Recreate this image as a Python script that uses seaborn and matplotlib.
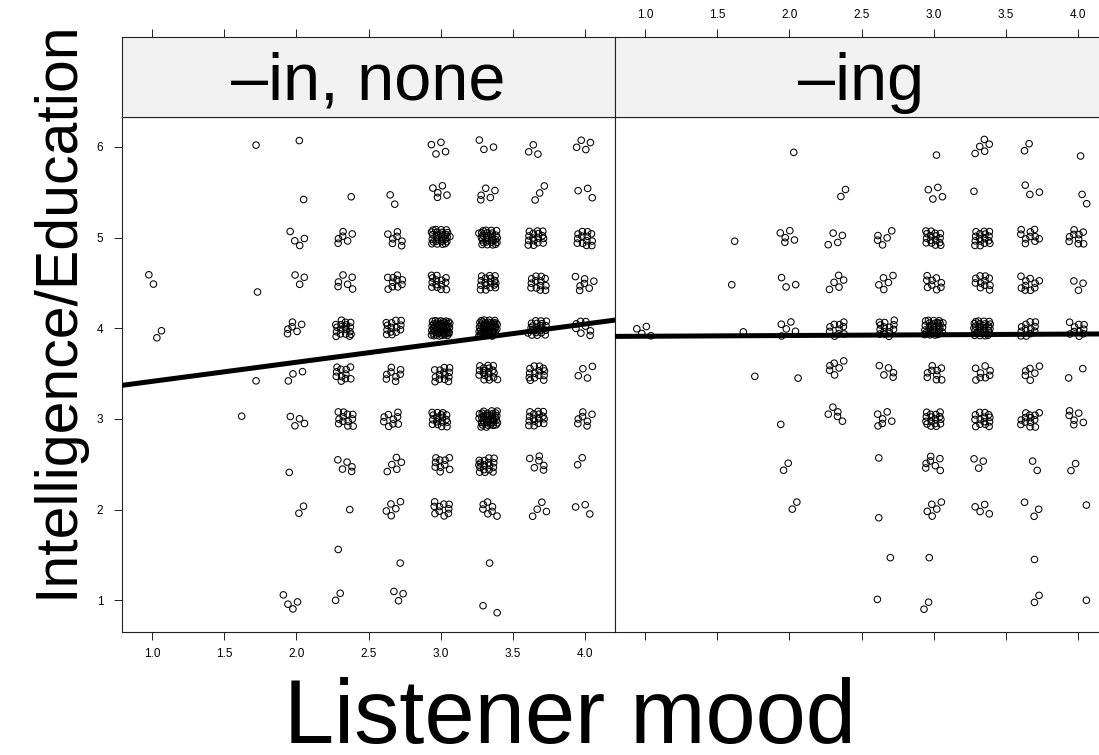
import numpy as np
import pandas as pd
import matplotlib
matplotlib.use("Agg")
import matplotlib.pyplot as plt
import seaborn as sns

# ---------------- data ----------------
panel_labels = ["–in, none", "–ing"]

# panel "–in, none": cluster centre x, centre y, number of points
in_x = [1.72, 2.02, 3.0, 3.33, 3.67, 4.0,
        2.05, 2.38, 2.64, 3.0, 3.33, 3.67, 4.0,
        2.0, 2.33, 2.67, 3.0, 3.33, 3.67, 4.0,
        1.02, 1.73, 2.0, 2.33, 2.67, 3.0, 3.33, 3.67, 4.0,
        1.03, 2.0, 2.33, 2.67, 3.0, 3.33, 3.67, 4.0,
        1.72, 2.0, 2.33, 2.67, 3.0, 3.33, 3.67, 4.0,
        1.62, 2.0, 2.33, 2.67, 3.0, 3.33, 3.67, 4.0,
        1.95, 2.33, 2.67, 3.0, 3.33, 3.67, 4.0,
        2.0, 2.37, 2.67, 3.0, 3.33, 3.67, 4.0,
        2.29, 2.72, 3.34,
        1.97, 2.33, 2.7, 3.35]
in_y = [6.02, 6.07, 6.0, 6.0, 6.0, 6.0,
        5.42, 5.45, 5.45, 5.5, 5.5, 5.5, 5.5,
        5.0, 5.0, 5.0, 5.0, 5.0, 5.0, 5.0,
        4.5, 4.4, 4.55, 4.5, 4.5, 4.5, 4.5, 4.5, 4.5,
        3.98, 4.0, 4.0, 4.0, 4.0, 4.0, 4.0, 4.0,
        3.42, 3.5, 3.5, 3.5, 3.5, 3.5, 3.5, 3.5,
        3.03, 3.0, 3.0, 3.0, 3.0, 3.0, 3.0, 3.0,
        2.41, 2.5, 2.5, 2.5, 2.5, 2.5, 2.56,
        2.0, 2.0, 2.0, 2.0, 2.0, 2.0, 2.0,
        1.56, 1.41, 1.41,
        0.98, 1.05, 1.02, 0.94]
in_n = [1, 1, 4, 3, 3, 4,
        1, 1, 2, 5, 5, 3, 3,
        4, 6, 7, 28, 28, 16, 13,
        2, 1, 3, 6, 10, 14, 17, 13, 7,
        2, 6, 18, 14, 50, 45, 22, 8,
        1, 3, 11, 8, 14, 18, 14, 4,
        1, 4, 12, 9, 18, 35, 16, 7,
        1, 5, 5, 10, 17, 6, 2,
        2, 1, 5, 10, 7, 4, 3,
        1, 1, 1,
        4, 2, 3, 2]

# panel "–ing"
ing_x = [2.03, 3.02, 3.33, 3.67, 4.02,
         2.33, 3.0, 3.28, 3.67, 4.03,
         1.62, 2.0, 2.33, 2.67, 3.0, 3.33, 3.67, 4.0,
         1.6, 2.0, 2.33, 2.67, 3.0, 3.33, 3.67, 4.0,
         1.0, 1.68, 2.0, 2.33, 2.67, 3.0, 3.33, 3.67, 4.0,
         1.76, 2.06, 2.33, 2.67, 3.0, 3.33, 3.67, 4.0,
         1.94, 2.33, 2.67, 3.0, 3.33, 3.67, 4.0,
         1.95, 2.62, 3.0, 3.33, 3.67, 4.0,
         2.0, 2.62, 3.0, 3.33, 3.67, 4.06,
         2.7, 2.97, 3.7,
         2.61, 2.97, 3.67, 4.06]
ing_y = [5.94, 5.91, 6.0, 5.98, 5.9,
         5.45, 5.5, 5.51, 5.5, 5.45,
         4.96, 5.0, 5.0, 5.0, 5.0, 5.0, 5.0, 5.0,
         4.48, 4.5, 4.5, 4.5, 4.5, 4.5, 4.5, 4.45,
         4.0, 3.96, 4.0, 4.0, 4.0, 4.0, 4.0, 4.0, 4.0,
         3.47, 3.45, 3.55, 3.5, 3.5, 3.5, 3.5, 3.5,
         2.94, 3.05, 3.0, 3.0, 3.0, 3.0, 3.0,
         2.5, 2.57, 2.5, 2.5, 2.45, 2.5,
         2.05, 1.91, 2.0, 2.0, 2.0, 2.05,
         1.47, 1.47, 1.45,
         1.01, 0.95, 1.0, 1.0]
ing_n = [1, 1, 5, 2, 1,
         2, 4, 1, 3, 2,
         1, 5, 4, 5, 16, 16, 10, 9,
         1, 3, 5, 5, 9, 11, 10, 3,
         4, 1, 5, 10, 14, 30, 28, 12, 10,
         1, 1, 6, 5, 9, 8, 6, 2,
         1, 5, 6, 16, 14, 13, 6,
         2, 1, 7, 3, 2, 2,
         2, 1, 5, 4, 3, 1,
         1, 1, 1,
         1, 2, 2, 1]

# fitted lines (intercept, slope) per panel
line_intercept = [3.204, 3.904]
line_slope = [0.2105, 0.008]

x_ticks = [1.0, 1.5, 2.0, 2.5, 3.0, 3.5, 4.0]
x_ticklabels = ["1.0", "1.5", "2.0", "2.5", "3.0", "3.5", "4.0"]
y_ticks = [1, 2, 3, 4, 5, 6]
y_ticklabels = ["1", "2", "3", "4", "5", "6"]

x_label = "Listener mood"
y_label = "Intelligence/Education"

# ---------------- layout / style ----------------
JX, JY = 0.065, 0.09
G = 1.324717957244746
A1, A2 = 1 / G, 1 / G ** 2


def expand(xs, ys, ns, start=0):
    """spread each cluster with a fixed quasi-uniform (R2) pattern"""
    px, py = [], []
    k = start
    for x, y, n in zip(xs, ys, ns):
        if n == 1:
            px.append(x)
            py.append(y)
            continue
        for _ in range(n):
            k += 1
            u = (0.5 + A1 * k) % 1.0
            v = (0.5 + A2 * k) % 1.0
            px.append(x + (u - 0.5) * 2 * JX)
            py.append(y + (v - 0.5) * 2 * JY)
    return px, py


sns.set_style("white")
plt.rcParams["font.family"] = ["Liberation Sans", "DejaVu Sans"]
plt.rcParams["text.color"] = "black"
plt.rcParams["xtick.color"] = "black"
plt.rcParams["ytick.color"] = "black"
plt.rcParams["axes.labelcolor"] = "black"

W, H = 1099, 755
fig = plt.figure(figsize=(W / 100, H / 100), dpi=100)


def fx(p):
    return p / W


def fy(p):
    return 1 - p / H


XLIM = (0.79, 4.21)
YLIM = (0.65, 6.33)
PW = 493
lefts = [122, 615]
EDGE = "#222222"

data_sets = [(in_x, in_y, in_n, 0), (ing_x, ing_y, ing_n, 700)]

for i, (xs, ys, ns, st) in enumerate(data_sets):
    ax = fig.add_axes([fx(lefts[i]), fy(632), PW / W, (632 - 117) / H])
    px, py = expand(xs, ys, ns, st)
    df = pd.DataFrame({"x": px, "y": py})
    sns.scatterplot(data=df, x="x", y="y", ax=ax, marker="o",
                    facecolor="none", edgecolor="black", s=22,
                    linewidth=0.75, legend=False, zorder=2)
    lx = np.array(XLIM)
    ly = line_intercept[i] + line_slope[i] * lx
    sns.lineplot(x=lx, y=ly, ax=ax, color="black", linewidth=3.6,
                 zorder=3, estimator=None, sort=False)
    ax.set_xlim(*XLIM)
    ax.set_ylim(*YLIM)
    ax.set_xlabel("")
    ax.set_ylabel("")
    for sp in ax.spines.values():
        sp.set_color(EDGE)
        sp.set_linewidth(0.8)
    ax.set_xticks(x_ticks)
    ax.tick_params(axis="x", direction="out", length=5.5, width=0.7,
                   color=EDGE, labelcolor="black", labelsize=8.5, pad=6,
                   bottom=True)
    if i == 0:
        ax.set_xticklabels(x_ticklabels)
        ax.set_yticks(y_ticks)
        ax.set_yticklabels(y_ticklabels)
        ax.tick_params(axis="y", direction="out", length=5.5, width=0.7,
                       color=EDGE, labelcolor="black", labelsize=8.5,
                       pad=8, left=True)
    else:
        ax.set_xticklabels([])
        ax.set_yticks([])

    # strip
    axs = fig.add_axes([fx(lefts[i]), fy(117), PW / W, 80 / H])
    axs.set_facecolor("#f2f2f2")
    axs.set_xlim(*XLIM)
    axs.set_ylim(0, 1)
    axs.set_yticks([])
    axs.xaxis.tick_top()
    axs.set_xticks(x_ticks)
    axs.tick_params(axis="x", direction="out", length=5.5, width=0.7,
                    color=EDGE, labelcolor="black", labelsize=8.5, pad=6,
                    top=True, bottom=False)
    if i == 1:
        axs.set_xticklabels(x_ticklabels)
    else:
        axs.set_xticklabels([])
    for sp in axs.spines.values():
        sp.set_color(EDGE)
        sp.set_linewidth(0.8)
    axs.text(0.5, (117 - 100) / 80, panel_labels[i], ha="center",
             va="baseline", fontsize=48, color="black",
             transform=axs.transAxes)

fig.text(fx(57), fy(309), y_label, rotation=90, ha="center", va="center",
         fontsize=42.5, color="black")
fig.text(fx(570), fy(743), x_label, ha="center", va="baseline", fontsize=65,
         color="black")

fig.savefig("out.png", dpi=100)
